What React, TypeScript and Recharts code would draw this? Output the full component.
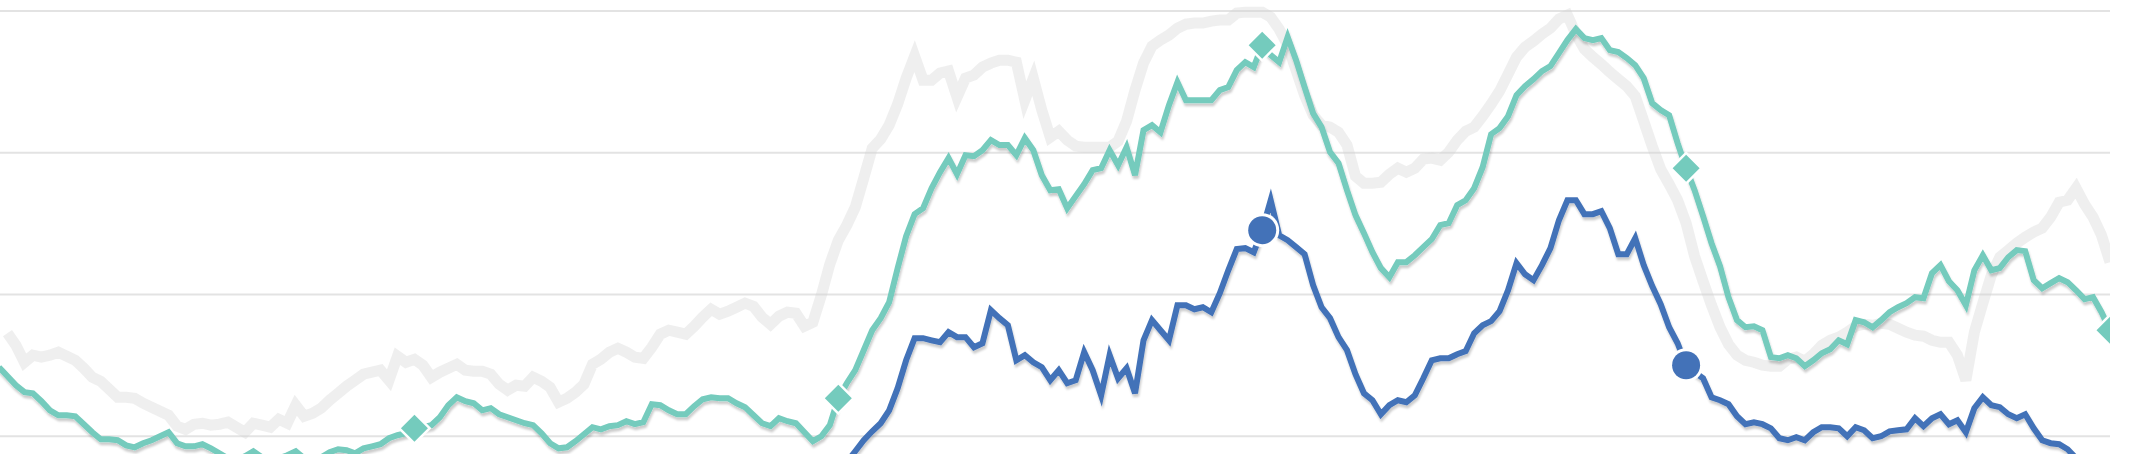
import React from 'react';
import { LineChart, Line, XAxis, YAxis, CartesianGrid } from 'recharts';

// Series values (y units: gridlines at 0, 10, 20, 30)
const greySeries: (number | null)[] = [
  null, 7.27, 6.42, 5.22, 5.72, 5.58, 5.72, 5.93, 5.65, 5.36,
  4.8, 4.16, 3.88, 3.32, 2.75, 2.75, 2.68, 2.33, 2.05, 1.76,
  1.48, 0.71, 0.49, 0.85, 0.92, 0.78, 0.85, 0.99, 0.64, 0.28,
  0.92, 0.78, 0.64, 1.2, 0.92, 2.19, 1.41, 1.62, 1.98, 2.54,
  3.03, 3.53, 3.95, 4.38, 4.52, 4.66, 3.95, 5.65, 5.22, 5.43,
  5.01, 4.16, 4.52, 4.8, 5.08, 4.66, 4.59, 4.59, 4.38, 3.67,
  3.25, 3.6, 3.53, 4.16, 3.88, 3.46, 2.4, 2.68, 3.11, 3.67,
  5.08, 5.43, 5.93, 6.21, 5.93, 5.58, 5.5, 6.28, 7.2, 7.48,
  7.34, 7.2, 7.76, 8.4, 8.96, 8.61, 8.82, 9.1, 9.39, 9.17,
  8.4, 7.9, 8.47, 8.75, 8.68, 7.76, 8.04, 9.95, 12.14, 13.83,
  14.89, 16.16, 18.21, 20.32, 20.96, 21.95, 23.43, 25.26, 26.82, 25.12,
  25.12, 25.62, 25.76, 23.92, 25.26, 25.48, 26.04, 26.32, 26.53, 26.53,
  26.39, 23.71, 25.26, 23.01, 21.1, 21.52, 20.89, 20.47, 20.39, 20.39,
  20.39, 20.39, 20.82, 22.23, 24.42, 26.32, 27.52, 27.95, 28.3, 28.79,
  29.07, 29.15, 29.15, 29.29, 29.36, 29.36, 29.85, 29.92, 29.92, 29.92,
  29.57, 28.72, 27.59, 25.83, 24.06, 22.65, 21.95, 21.81, 21.45, 20.54,
  18.35, 17.85, 17.85, 17.92, 18.49, 18.91, 18.63, 18.91, 19.55, 19.62,
  19.48, 20.04, 20.89, 21.52, 21.81, 22.58, 23.43, 24.35, 25.55, 26.75,
  27.45, 27.88, 28.37, 28.79, 29.43, 29.71, 28.37, 27.31, 26.75, 26.25,
  25.69, 25.19, 24.7, 23.99, 22.23, 20.47, 18.84, 17.78, 16.65, 15.03,
  12.7, 10.94, 9.24, 7.69, 6.49, 5.72, 5.36, 5.22, 5.01, 4.94,
  4.94, 5.43, 5.58, 5.29, 5.79, 6.42, 6.77, 6.99, 7.34, 7.76,
  7.9, 7.83, 7.97, 7.9, 7.62, 7.34, 7.13, 7.06, 6.77, 6.63,
  6.63, 5.72, 3.95, 7.34, 9.39, 11.36, 12.63, 13.13, 13.62, 14.04,
  14.4, 14.68, 15.45, 16.51, 16.65, 17.5, 16.37, 15.45, 14.18, 12.28,
];

const tealSeries: number[] = [
  4.87, 4.23, 3.6, 3.11, 3.03, 2.47, 1.83, 1.48, 1.48, 1.41,
  0.85, 0.28, -0.21, -0.21, -0.28, -0.64, -0.78, -0.49, -0.28, 0,
  0.28, -0.49, -0.71, -0.71, -0.56, -0.85, -1.2, -1.55, -1.69, -1.41,
  -1.06, -1.48, -1.69, -1.55, -1.34, -1.06, -1.55, -1.69, -1.48, -1.13,
  -0.92, -0.99, -1.2, -0.85, -0.71, -0.56, -0.14, 0.07, 0.21, 0.56,
  0.64, 0.78, 1.34, 2.19, 2.75, 2.47, 2.33, 1.83, 1.98, 1.55,
  1.34, 1.13, 0.92, 0.78, 0.21, -0.49, -0.85, -0.78, -0.35, 0.14,
  0.64, 0.49, 0.71, 0.78, 1.06, 0.85, 0.99, 2.26, 2.19, 1.83,
  1.55, 1.55, 2.12, 2.61, 2.75, 2.68, 2.68, 2.33, 2.05, 1.48,
  0.92, 0.71, 1.27, 1.06, 0.92, 0.28, -0.35, 0, 0.78, 2.68,
  3.74, 4.66, 6.07, 7.48, 8.33, 9.46, 11.86, 14.11, 15.67, 16.09,
  17.5, 18.63, 19.62, 18.49, 19.83, 19.76, 20.18, 20.89, 20.54, 20.54,
  19.83, 21.03, 20.18, 18.42, 17.36, 17.43, 16.09, 16.94, 17.78, 18.77,
  18.91, 20.18, 19.12, 20.39, 18.42, 21.59, 21.95, 21.45, 23.36, 24.98,
  23.71, 23.71, 23.71, 23.71, 24.42, 24.63, 25.83, 26.39, 26.04, 27.59,
  26.89, 26.39, 28.16, 26.53, 24.63, 22.79, 21.81, 20.04, 19.27, 17.36,
  15.6, 14.33, 12.98, 11.86, 11.22, 12.28, 12.28, 12.77, 13.34, 13.9,
  14.89, 15.03, 16.3, 16.65, 17.5, 18.98, 21.31, 21.74, 22.58, 24.06,
  24.7, 25.19, 25.76, 26.11, 27.03, 27.95, 28.72, 28.09, 27.95, 28.09,
  27.24, 27.1, 26.68, 26.18, 25.26, 23.5, 23.01, 22.65, 20.68, 18.91,
  17.36, 15.53, 13.62, 12.0, 9.81, 8.19, 7.69, 7.76, 7.48, 5.58,
  5.5, 5.72, 5.5, 4.94, 5.36, 5.86, 6.14, 6.77, 6.49, 8.19,
  8.04, 7.69, 8.19, 8.75, 9.1, 9.39, 9.81, 9.74, 11.5, 12.07,
  10.94, 10.3, 9.24, 11.71, 12.77, 11.71, 11.86, 12.63, 13.13, 13.06,
  11.01, 10.44, 10.8, 11.15, 10.87, 10.3, 9.67, 9.81, 8.75, 7.48,
];

const blueSeries: number[] = [
  -3.2, -3.6, -4.1, -4.6, -4.8, -5.2, -5.6, -6.0, -6.1, -6.2,
  -6.6, -7.0, -7.4, -7.5, -7.6, -7.9, -8.1, -7.9, -7.6, -7.4,
  -7.2, -7.8, -8.0, -8.1, -7.9, -8.2, -8.5, -8.7, -8.8, -8.6,
  -8.3, -8.6, -8.8, -8.7, -8.4, -8.1, -8.5, -8.7, -8.5, -8.2,
  -8.0, -8.1, -8.3, -8.0, -7.8, -7.7, -7.4, -7.2, -7.0, -6.7,
  -6.6, -6.5, -6.0, -5.3, -4.9, -5.1, -5.2, -5.6, -5.5, -5.9,
  -6.1, -6.3, -6.5, -6.6, -7.1, -7.7, -8.0, -7.9, -7.5, -7.1,
  -6.6, -6.8, -6.6, -6.5, -6.3, -6.5, -6.4, -5.3, -5.4, -5.7,
  -5.9, -5.9, -5.4, -5.0, -4.9, -4.9, -4.9, -5.2, -5.5, -6.0,
  -6.5, -6.7, -6.2, -6.4, -6.5, -6.9, -7.0, -6.2, -4.6, -3.0,
  -1.83, -1.06, -0.28, 0.35, 0.92, 1.83, 3.39, 5.36, 6.92, 6.92,
  6.77, 6.63, 7.34, 6.99, 6.99, 6.28, 6.56, 8.89, 8.33, 7.83,
  5.36, 5.72, 5.22, 4.87, 3.95, 4.66, 3.74, 3.95, 5.93, 4.66,
  2.89, 5.72, 4.09, 4.8, 3.03, 6.77, 8.19, 7.48, 6.77, 9.24,
  9.24, 8.96, 9.1, 8.75, 10.09, 11.71, 13.2, 13.27, 12.98, 14.54,
  16.65, 14.18, 13.83, 13.34, 12.84, 10.66, 9.1, 8.33, 6.99, 6.07,
  4.38, 3.03, 2.54, 1.55, 2.19, 2.54, 2.4, 2.89, 4.09, 5.36,
  5.5, 5.5, 5.79, 6.0, 7.27, 7.83, 8.12, 8.82, 10.3, 12.21,
  11.43, 11.01, 12.07, 13.27, 15.24, 16.65, 16.65, 15.67, 15.67, 15.88,
  14.68, 12.84, 12.84, 13.97, 12.07, 10.59, 9.32, 7.69, 6.56, 5.01,
  4.52, 4.09, 2.75, 2.54, 2.26, 1.41, 0.85, 0.99, 0.85, 0.56,
  -0.14, -0.28, -0.07, -0.28, 0.28, 0.64, 0.64, 0.56, 0, 0.64,
  0.42, -0.14, 0, 0.35, 0.42, 0.49, 1.27, 0.71, 1.27, 1.55,
  0.85, 1.13, 0.28, 1.98, 2.75, 2.19, 2.05, 1.55, 1.27, 1.55,
  0.56, -0.28, -0.49, -0.56, -0.92, -1.55, -2.12, -2.4, -2.75, -3.1,
];

// Which points carry a marker
const markerIndices = [49, 99, 149, 199, 249];
const yTicks = [-10, 0, 10, 20, 30];

const TEAL = '#74cbbd';
const BLUE = '#4372b8';
const GREY = '#d4d4d4';

const data = tealSeries.map((t, i) => ({
  i,
  grey: greySeries[i],
  teal: t,
  blue: blueSeries[i],
}));

const DiamondDot = (props: any) => {
  const { cx, cy, index } = props;
  if (!markerIndices.includes(index) || cx == null || cy == null) {
    return <g key={`td-${index}`} />;
  }
  const o = 17;
  const n = 13.5;
  return (
    <g key={`td-${index}`}>
      <polygon points={`${cx},${cy - o} ${cx + o},${cy} ${cx},${cy + o} ${cx - o},${cy}`} fill="#ffffff" />
      <polygon points={`${cx},${cy - n} ${cx + n},${cy} ${cx},${cy + n} ${cx - n},${cy}`} fill={TEAL} />
    </g>
  );
};

const CircleDot = (props: any) => {
  const { cx, cy, index } = props;
  if (!markerIndices.includes(index) || cx == null || cy == null) {
    return <g key={`bd-${index}`} />;
  }
  return (
    <g key={`bd-${index}`}>
      <circle cx={cx} cy={cy} r={17} fill="#ffffff" />
      <circle cx={cx} cy={cy} r={14} fill={BLUE} />
    </g>
  );
};

export default function App() {
  return (
    <div
      style={{
        position: 'absolute',
        left: -1,
        top: 0,
        width: 2130,
        height: 454,
        overflow: 'hidden',
        background: '#ffffff',
      }}
    >
      <LineChart
        width={2111}
        height={578}
        data={data}
        margin={{ top: 11, right: 0, bottom: 0, left: 0 }}
      >
        <defs>
          <filter id="lineShadow" x="-5%" y="-10%" width="110%" height="130%">
            <feDropShadow dx="1" dy="3" stdDeviation="1.3" floodColor="#000000" floodOpacity="0.2" />
          </filter>
        </defs>
        <CartesianGrid vertical={false} stroke="#e3e3e3" strokeWidth={2} />
        <XAxis dataKey="i" type="number" domain={[0, 249]} hide />
        <YAxis type="number" domain={[-10, 30]} ticks={yTicks} hide />
        <Line
          dataKey="grey"
          type="linear"
          stroke={GREY}
          strokeOpacity={0.38}
          strokeWidth={11}
          dot={false}
          activeDot={false}
          isAnimationActive={false}
        />
        <Line
          dataKey="teal"
          type="linear"
          stroke={TEAL}
          strokeWidth={6}
          filter="url(#lineShadow)"
          dot={DiamondDot}
          activeDot={false}
          isAnimationActive={false}
        />
        <Line
          dataKey="blue"
          type="linear"
          stroke={BLUE}
          strokeWidth={6}
          filter="url(#lineShadow)"
          dot={CircleDot}
          activeDot={false}
          isAnimationActive={false}
        />
      </LineChart>
    </div>
  );
}
